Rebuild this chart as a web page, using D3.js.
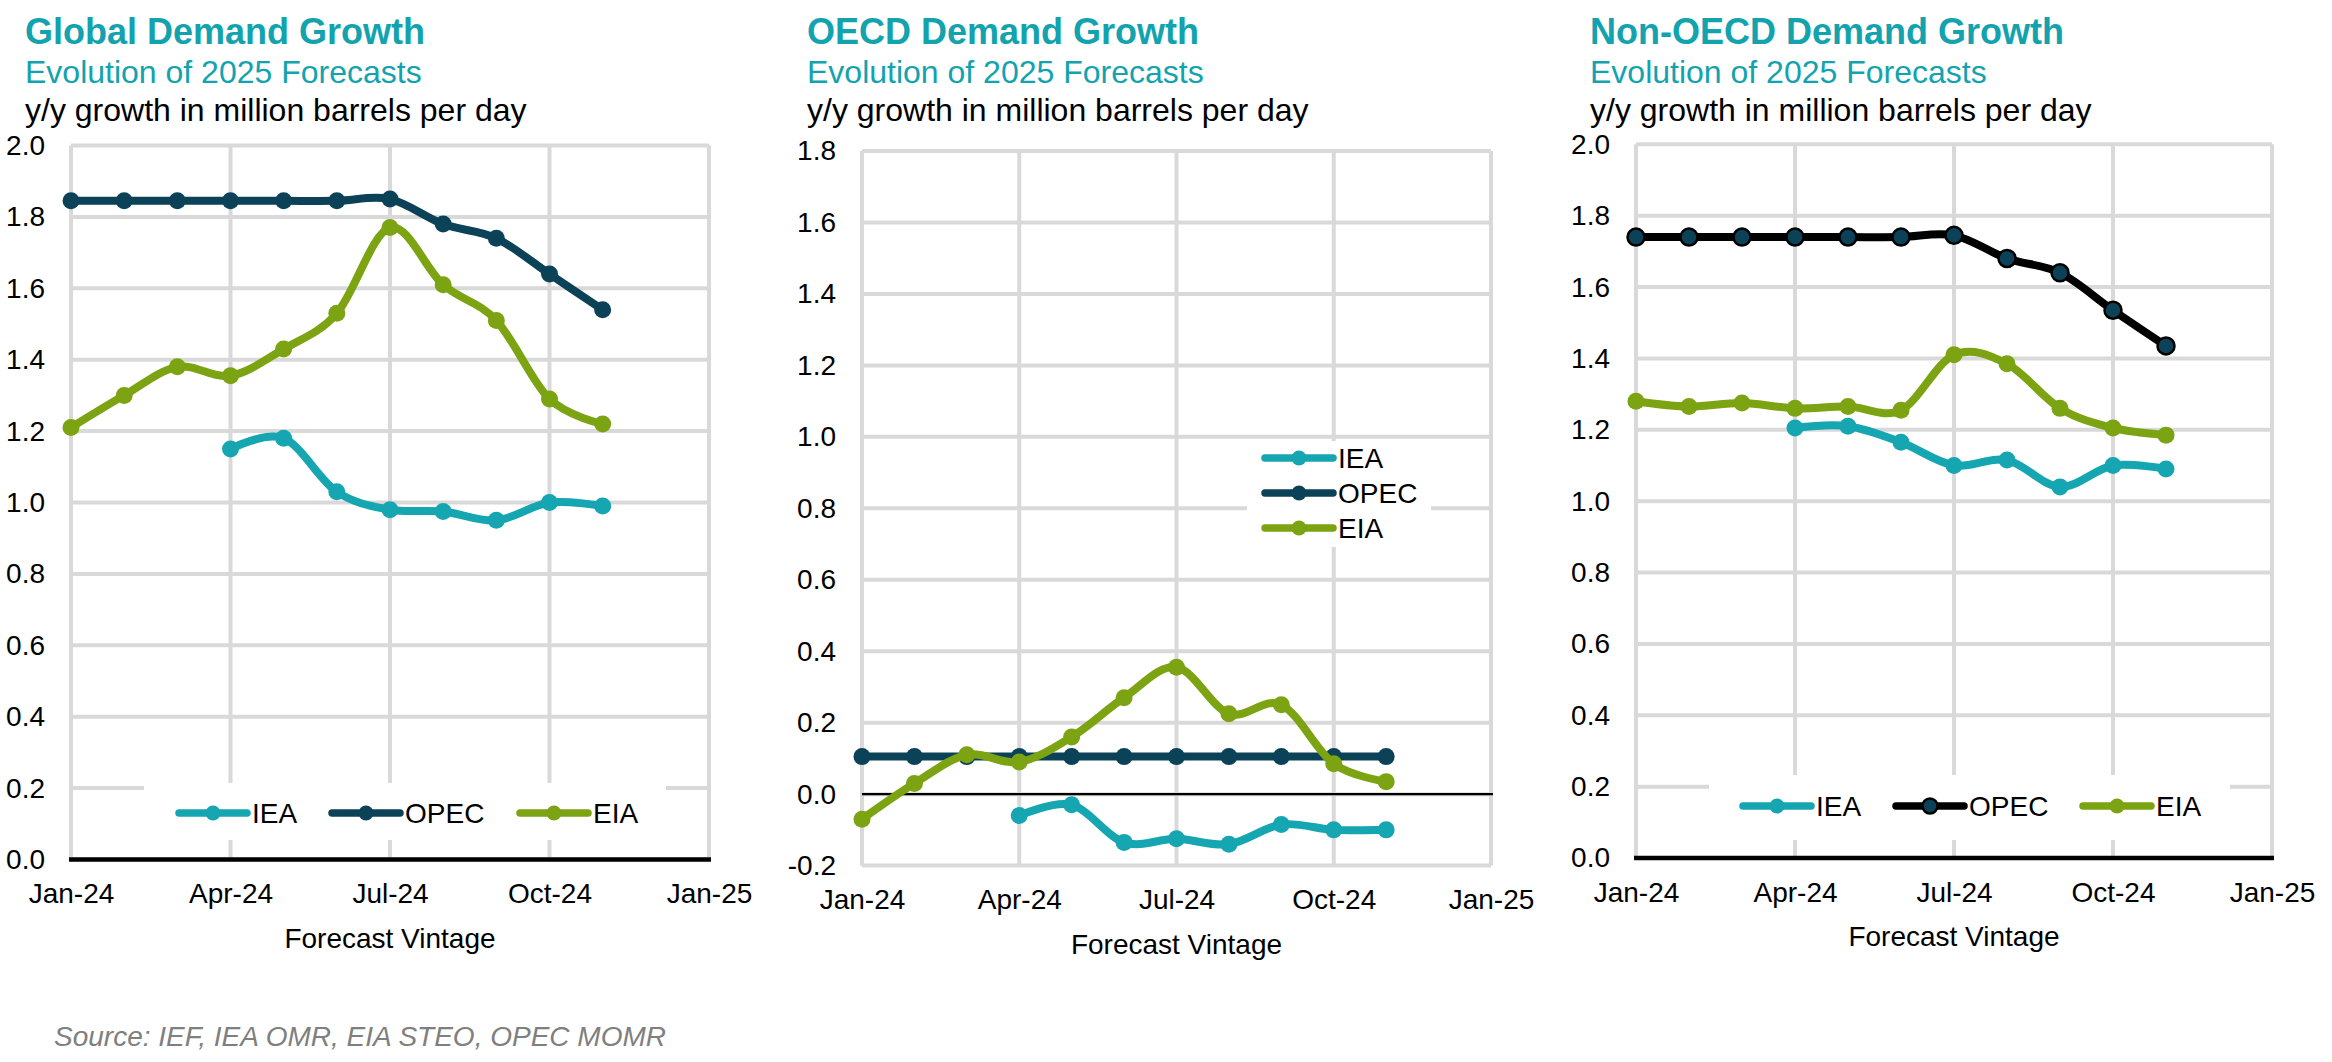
<!DOCTYPE html>
<html>
<head>
<meta charset="utf-8">
<script src="https://cdn.jsdelivr.net/npm/d3@7"></script>
<style>
  html, body { margin: 0; padding: 0; background: #ffffff; }
  svg { display: block; }
  text { font-family: "Liberation Sans", Arial, sans-serif; }
</style>
</head>
<body>
<svg id="chart" width="2332" height="1062"></svg>
<script>
// ---------------- DATA ----------------
const vintages = ["Jan-24","Feb-24","Mar-24","Apr-24","May-24","Jun-24","Jul-24","Aug-24","Sep-24","Oct-24","Nov-24"];
const xTickLabels = ["Jan-24","Apr-24","Jul-24","Oct-24","Jan-25"];
const seriesNames = ["IEA","OPEC","EIA"];

const globalIEA  = [null, null, null, 1.15, 1.18, 1.03, 0.98, 0.975, 0.95, 1.00, 0.99];
const globalOPEC = [1.845, 1.845, 1.845, 1.845, 1.845, 1.845, 1.85, 1.78, 1.74, 1.64, 1.54];
const globalEIA  = [1.21, 1.30, 1.38, 1.355, 1.43, 1.53, 1.77, 1.61, 1.51, 1.29, 1.22];

const oecdIEA  = [null, null, null, -0.06, -0.03, -0.135, -0.125, -0.14, -0.085, -0.10, -0.10];
const oecdOPEC = [0.105, 0.105, 0.105, 0.105, 0.105, 0.105, 0.105, 0.105, 0.105, 0.105, 0.105];
const oecdEIA  = [-0.07, 0.03, 0.11, 0.09, 0.16, 0.27, 0.355, 0.225, 0.25, 0.085, 0.035];

const nonOecdIEA  = [null, null, null, 1.205, 1.21, 1.165, 1.10, 1.115, 1.04, 1.10, 1.09];
const nonOecdOPEC = [1.74, 1.74, 1.74, 1.74, 1.74, 1.74, 1.745, 1.68, 1.64, 1.535, 1.435];
const nonOecdEIA  = [1.28, 1.265, 1.275, 1.26, 1.265, 1.255, 1.41, 1.385, 1.26, 1.205, 1.185];

const globalTicks  = [0, 0.2, 0.4, 0.6, 0.8, 1.0, 1.2, 1.4, 1.6, 1.8, 2.0];
const oecdTicks    = [-0.2, 0, 0.2, 0.4, 0.6, 0.8, 1.0, 1.2, 1.4, 1.6, 1.8];
const nonOecdTicks = [0, 0.2, 0.4, 0.6, 0.8, 1.0, 1.2, 1.4, 1.6, 1.8, 2.0];

const titles = ["Global Demand Growth", "OECD Demand Growth", "Non-OECD Demand Growth"];
const subtitle = "Evolution of 2025 Forecasts";
const unitsLabel = "y/y growth in million barrels per day";
const xAxisTitle = "Forecast Vintage";
const sourceText = "Source: IEF, IEA OMR, EIA STEO, OPEC MOMR";

// ---------------- STYLE ----------------
const C = {
  title: "#13A3AE",
  iea: "#15A6B1",
  opec: "#0C4258",
  eia: "#7BA312",
  grid: "#D9D9D9",
  text: "#000000",
  source: "#7F7F7F"
};

const fmt = d3.formatLocale({decimal: ".", thousands: ",", grouping: [3], currency: ["", ""], minus: "-"}).format(".1f");

const panels = [
  { title: titles[0], iea: globalIEA, opec: globalOPEC, eia: globalEIA, ticks: globalTicks,
    textX: 25, left: 71, right: 709, top: 145.5, bottom: 859.5, zeroStyle: "thick",
    opecLine: C.opec, opecStroke: null,
    legend: { type: "row", box: [144, 783, 666, 840], y: 813, xs: [179, 332, 520] } },
  { title: titles[1], iea: oecdIEA, opec: oecdOPEC, eia: oecdEIA, ticks: oecdTicks,
    textX: 807, left: 862, right: 1491, top: 151, bottom: 865.6, zeroStyle: "thin",
    opecLine: C.opec, opecStroke: null,
    legend: { type: "col", box: [1247, 441, 1431, 547], x: 1265, ys: [458, 493, 528] } },
  { title: titles[2], iea: nonOecdIEA, opec: nonOecdOPEC, eia: nonOecdEIA, ticks: nonOecdTicks,
    textX: 1590, left: 1636, right: 2272, top: 144.3, bottom: 858, zeroStyle: "thick",
    opecLine: "#000000", opecStroke: "#000000",
    legend: { type: "row", box: [1709, 775, 2230, 840], y: 806, xs: [1743, 1896, 2083] } }
];

const svg = d3.select("#chart");
svg.append("rect").attr("width", 2332).attr("height", 1062).attr("fill", "#ffffff");

const curve = d3.curveCatmullRom.alpha(0);
const LW = 8, MR = 8.5, LEG_LEN = 68;

panels.forEach((p, pi) => {
  const g = svg.append("g");
  const yDomain = [p.ticks[0], p.ticks[p.ticks.length - 1]];
  const x = d3.scaleLinear().domain([0, 12]).range([p.left, p.right]);
  const y = d3.scaleLinear().domain(yDomain).range([p.bottom, p.top]);
  const xTickVals = xTickLabels.map((_, i) => i * 3);

  // headings
  g.append("text").attr("x", p.textX).attr("y", 44).attr("font-size", 36).attr("font-weight", "bold")
    .attr("fill", C.title).text(p.title);
  g.append("text").attr("x", p.textX).attr("y", 82.5).attr("font-size", 32)
    .attr("fill", C.title).text(subtitle);
  g.append("text").attr("x", p.textX).attr("y", 121).attr("font-size", 32)
    .attr("fill", C.text).text(unitsLabel);

  // gridlines
  const grid = g.append("g");
  grid.selectAll("line.h").data(p.ticks).join("line")
    .attr("x1", p.left).attr("x2", p.right)
    .attr("y1", d => y(d)).attr("y2", d => y(d))
    .attr("stroke", C.grid).attr("stroke-width", 4);
  grid.selectAll("line.v").data(xTickVals).join("line")
    .attr("x1", d => x(d)).attr("x2", d => x(d))
    .attr("y1", p.top).attr("y2", p.bottom)
    .attr("stroke", C.grid).attr("stroke-width", 4);

  // legend background (covers gridlines)
  const b = p.legend.box;
  g.append("rect").attr("x", b[0]).attr("y", b[1]).attr("width", b[2] - b[0]).attr("height", b[3] - b[1])
    .attr("fill", "#ffffff");

  // zero line
  g.append("line").attr("x1", p.left - (p.zeroStyle === "thick" ? 2 : 0)).attr("x2", p.right + 2)
    .attr("y1", y(0)).attr("y2", y(0))
    .attr("stroke", "#000").attr("stroke-width", p.zeroStyle === "thick" ? 4.5 : 2.2);

  // y axis labels
  const yAxis = d3.axisLeft(y).tickValues(p.ticks).tickFormat(fmt).tickSize(0).tickPadding(26);
  const ya = g.append("g").attr("transform", `translate(${p.left},0)`).call(yAxis);
  ya.select(".domain").remove();
  ya.selectAll("text").attr("font-size", 28).attr("fill", C.text)
    .attr("font-family", '"Liberation Sans", Arial, sans-serif');

  // x axis labels
  const xAxis = d3.axisBottom(x).tickValues(xTickVals).tickFormat((d, i) => xTickLabels[i]).tickSize(0).tickPadding(24);
  const xa = g.append("g").attr("transform", `translate(0,${p.bottom})`).call(xAxis);
  xa.select(".domain").remove();
  xa.selectAll("text").attr("font-size", 28).attr("fill", C.text)
    .attr("font-family", '"Liberation Sans", Arial, sans-serif');

  g.append("text").attr("x", (p.left + p.right) / 2).attr("y", p.bottom + 88)
    .attr("text-anchor", "middle").attr("font-size", 28).attr("fill", C.text).text(xAxisTitle);

  // series
  const series = [
    { name: seriesNames[0], vals: p.iea, line: C.iea, fill: C.iea, stroke: null },
    { name: seriesNames[1], vals: p.opec, line: p.opecLine, fill: C.opec, stroke: p.opecStroke },
    { name: seriesNames[2], vals: p.eia, line: C.eia, fill: C.eia, stroke: null }
  ];
  const lineGen = d3.line().defined(d => d.v != null).x(d => x(d.i)).y(d => y(d.v)).curve(curve);

  const drawOrder = [1, 2, 0];
  drawOrder.forEach(si => {
    const s = series[si];
    const pts = s.vals.map((v, i) => ({ i, v }));
    g.append("path").datum(pts).attr("d", lineGen).attr("fill", "none")
      .attr("stroke", s.line).attr("stroke-width", LW).attr("stroke-linejoin", "round").attr("stroke-linecap", "round");
    g.selectAll(null).data(pts.filter(d => d.v != null)).join("circle")
      .attr("cx", d => x(d.i)).attr("cy", d => y(d.v)).attr("r", MR)
      .attr("fill", s.fill)
      .attr("stroke", s.stroke || "none").attr("stroke-width", s.stroke ? 2.5 : 0);
  });

  // legend
  series.forEach((s, si) => {
    let lx, ly;
    if (p.legend.type === "row") { lx = p.legend.xs[si]; ly = p.legend.y; }
    else { lx = p.legend.x; ly = p.legend.ys[si]; }
    g.append("line").attr("x1", lx).attr("x2", lx + LEG_LEN).attr("y1", ly).attr("y2", ly)
      .attr("stroke", s.line).attr("stroke-width", 7.5).attr("stroke-linecap", "round");
    g.append("circle").attr("cx", lx + LEG_LEN / 2).attr("cy", ly).attr("r", 7.5)
      .attr("fill", s.fill).attr("stroke", s.stroke || "none").attr("stroke-width", s.stroke ? 2.5 : 0);
    g.append("text").attr("x", lx + LEG_LEN + 5).attr("y", ly).attr("dy", "0.36em")
      .attr("font-size", 28).attr("fill", C.text).text(s.name);
  });
});

svg.append("text").attr("x", 54).attr("y", 1046).attr("font-size", 28).attr("font-style", "italic")
  .attr("fill", C.source).text(sourceText);
</script>
</body>
</html>
